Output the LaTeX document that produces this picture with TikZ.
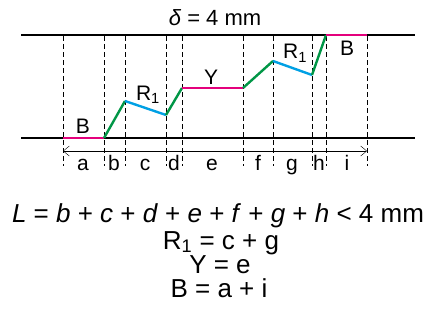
\documentclass[tikz,border=0pt]{standalone}
\usepackage{fontspec}
\setmainfont{Liberation Sans}
\usepackage{xcolor}
\usetikzlibrary{arrows.meta}

\definecolor{bpink}{RGB}{228,0,124}
\definecolor{rblue}{RGB}{0,160,228}
\definecolor{sgreen}{RGB}{0,150,70}

\begin{document}
\begin{tikzpicture}[x=1pt, y=-1pt, font=\fontsize{21}{24}\selectfont,
    wall/.style={line width=2.6pt},
    guide/.style={thin, dash pattern=on 5pt off 3pt},
    seg/.style={line width=2.4pt},
    lbl/.style={inner sep=0pt, anchor=base},
    eqn/.style={lbl, font=\fontsize{26}{28}\selectfont}]
    \useasboundingbox (0,0) rectangle (430,321);

    % walls
    \coordinate (tl) at (21,35);  \coordinate (tr) at (415,35);
    \coordinate (bl) at (21,138); \coordinate (br) at (415,138);
    \draw[wall] (tl) -- (tr);
    \draw[wall] (bl) -- (br);
    \node[lbl, font=\fontsize{22}{24}\selectfont] (delta) at (215,26) {\textit{δ} = 4 mm};

    % dashed guides
    \foreach \n/\x in {p0/63, p1/104, p2/125, p3/166, p4/182, p5/243, p6/273, p7/312, p8/326, p9/367} {
        \coordinate (\n t) at (\x,36);
        \coordinate (\n b) at (\x,166);
        \draw[guide] (\n t) -- (\n b);
    }

    % path
    \coordinate (k0) at (63,138);  \coordinate (k1) at (104,138);
    \coordinate (k2) at (125,101); \coordinate (k3) at (166,115);
    \coordinate (k4) at (182,88);  \coordinate (k5) at (243,88);
    \coordinate (k6) at (273,61);  \coordinate (k7) at (312,75);
    \coordinate (k8) at (326,35);  \coordinate (k9) at (367,35);
    \draw[seg, bpink]  (k0) -- (k1);
    \draw[seg, sgreen] (k1) -- (k2);
    \draw[seg, rblue]  (k2) -- (k3);
    \draw[seg, sgreen] (k3) -- (k4);
    \draw[seg, bpink]  (k4) -- (k5);
    \draw[seg, sgreen] (k5) -- (k6);
    \draw[seg, rblue]  (k6) -- (k7);
    \draw[seg, sgreen] (k7) -- (k8);
    \draw[seg, bpink]  (k8) -- (k9);

    \node[lbl] (bleft) at (83,133) {B};
    \node[lbl] (rone) at (148,100) {R\textsubscript{1}};
    \node[lbl] (yel) at (211,84) {Y};
    \node[lbl] (rtwo) at (295,59) {R\textsubscript{1}};
    \node[lbl] (bright) at (347,56) {B};

    % dimension arrow
    \coordinate (da) at (63,151); \coordinate (db) at (367,151);
    \draw[thin, {Straight Barb[length=6pt, width=10pt]}-{Straight Barb[length=6pt, width=10pt]}] (da) -- (db);
    \foreach \t/\x in {a/83, b/114, c/145, d/174, e/212, f/258, g/292, h/319, i/347}
        \node[lbl] (s\t) at (\x,170) {\t};

    % relations
    \node[eqn] (eqL) at (218,222) {\textit{L} = \textit{b} + \textit{c} + \textit{d} + \textit{e} + \textit{f} + \textit{g} + \textit{h} < 4 mm};
    \node[eqn] (eqR) at (221,249) {R\textsubscript{1} = c + g};
    \node[eqn] (eqY) at (220,273) {Y = e};
    \node[eqn] (eqB) at (219,297) {B = a + i};
\end{tikzpicture}
\end{document}
